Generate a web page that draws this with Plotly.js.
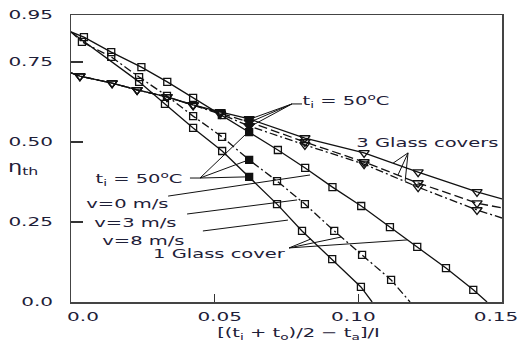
<!DOCTYPE html>
<html><head><meta charset="utf-8">
<script src="https://cdn.plot.ly/plotly-3.0.1.min.js"></script>
<style>html,body{margin:0;padding:0;background:#fff}#chart{width:518px;height:342px}</style>
</head><body><div id="chart"></div>
<script>
// ---- data: 1 glass cover (v = 0, 3, 8 m/s) ----
const g1_v0_x = [0, 0.0045, 0.014, 0.0245, 0.0335, 0.0425, 0.0525, 0.062, 0.072, 0.0815, 0.091, 0.101, 0.111, 0.1205, 0.1305, 0.14, 0.1448];
const g1_v0_y = [0.844, 0.828, 0.781, 0.734, 0.688, 0.638, 0.584, 0.531, 0.475, 0.419, 0.359, 0.300, 0.234, 0.172, 0.106, 0.038, 0];
const g1_v3_x = [0, 0.0038, 0.014, 0.0237, 0.0334, 0.0425, 0.0526, 0.062, 0.0717, 0.0814, 0.0916, 0.1013, 0.1114, 0.118];
const g1_v3_y = [0.844, 0.813, 0.766, 0.703, 0.644, 0.581, 0.516, 0.444, 0.378, 0.306, 0.222, 0.147, 0.069, 0];
const g1_v8_x = [0, 0.0237, 0.0327, 0.0425, 0.0526, 0.062, 0.0717, 0.0804, 0.0909, 0.1009, 0.1048];
const g1_v8_y = [0.844, 0.688, 0.619, 0.544, 0.472, 0.391, 0.306, 0.222, 0.134, 0.047, 0];
// ---- data: 3 glass covers (v = 0, 3, 8 m/s) ----
const g3_x    = [0, 0.0031, 0.0143, 0.023, 0.0334, 0.0425, 0.0519, 0.062, 0.0814, 0.102, 0.1208, 0.1413, 0.15];
const g3_v0_y = [0.716, 0.706, 0.684, 0.663, 0.641, 0.616, 0.594, 0.572, 0.5125, 0.466, 0.406, 0.344, 0.322];
const g3_v3_y = [0.716, 0.706, 0.684, 0.663, 0.641, 0.616, 0.592, 0.5625, 0.500, 0.4375, 0.372, 0.309, 0.294];
const g3_v8_y = [0.716, 0.706, 0.684, 0.663, 0.641, 0.614, 0.588, 0.550, 0.491, 0.431, 0.359, 0.2875, 0.2625];
// point measured at t_i = 50 °C (filled markers)
const TI50_X = 0.062;
// ---- ticks ----
const xTickVals = [0, 0.05, 0.10, 0.15];
const xTickText = ['0.0', '0.05', '0.10', '0.15'];
const yTickVals = [0, 0.25, 0.50, 0.75, 0.897];
const yTickText = ['0.0', '0.25', '0.50', '0.75', '0.95'];

const INK = '#111';
const TXT = '#1e2038';
const FONT = 'DejaVu Sans';

function series(xs, ys, dash, sym, size) {
  const inner = xs.map((_, i) => i).slice(1, -1);
  const mx = inner.map(i => xs[i]), my = inner.map(i => ys[i]);
  return [
    {x: xs, y: ys, mode: 'lines', line: {color: INK, width: 1.3, dash: dash}, hoverinfo: 'skip', showlegend: false},
    {x: mx, y: my, mode: 'markers', showlegend: false,
     marker: {symbol: mx.map(v => Math.abs(v - TI50_X) < 1e-9 ? sym : sym + '-open'),
              size: size, color: INK, line: {color: INK, width: 1.3}}}
  ];
}
const DASHDOT = '8px,3px,2px,3px';
const traces = [].concat(
  series(g1_v0_x, g1_v0_y, 'solid', 'square', 7),
  series(g1_v3_x, g1_v3_y, DASHDOT, 'square', 7),
  series(g1_v8_x, g1_v8_y, 'solid', 'square', 7),
  series(g3_x, g3_v0_y, 'solid', 'triangle-down', 9),
  series(g3_x, g3_v3_y, '9px,4px', 'triangle-down', 9),
  series(g3_x, g3_v8_y, DASHDOT, 'triangle-down', 9)
);

// leader lines [x0, y0, x1, y1] in data units
const leaders = [
  [0.0804, 0.619, 0.0769, 0.619], [0.0769, 0.619, 0.0633, 0.575], [0.0769, 0.619, 0.0633, 0.566], [0.0769, 0.619, 0.0633, 0.553],
  [0.0414, 0.3875, 0.0449, 0.3875], [0.0449, 0.3875, 0.0609, 0.391], [0.0449, 0.3875, 0.0609, 0.441], [0.0449, 0.3875, 0.0609, 0.525],
  [0.0338, 0.331, 0.0832, 0.397],
  [0.0404, 0.275, 0.0787, 0.319],
  [0.0459, 0.222, 0.0755, 0.256],
  [0.0759, 0.169, 0.0835, 0.197], [0.0759, 0.169, 0.0940, 0.203], [0.0759, 0.169, 0.1170, 0.194],
  [0.1173, 0.466, 0.1121, 0.434], [0.1173, 0.466, 0.1138, 0.397], [0.1173, 0.466, 0.1163, 0.378]
];
const shapes = leaders.map(s => ({type: 'line', xref: 'x', yref: 'y', x0: s[0], y0: s[1], x1: s[2], y1: s[3],
  line: {color: INK, width: 1}}));

const labels = [
  {text: 't<sub>i</sub> = 50<sup>o</sup>C', x: 0.0957, y: 0.628},
  {text: 't<sub>i</sub> = 50<sup>o</sup>C', x: 0.0238, y: 0.384},
  {text: 'v=0 m/s', x: 0.0197, y: 0.309},
  {text: 'v=3 m/s', x: 0.0226, y: 0.247},
  {text: 'v=8 m/s', x: 0.0254, y: 0.191},
  {text: '1 Glass cover', x: 0.0517, y: 0.153},
  {text: '3 Glass covers', x: 0.1241, y: 0.500}
];
const annotations = labels.map(l => ({text: l.text, x: l.x, y: l.y, xref: 'x', yref: 'y',
  showarrow: false, xanchor: 'center', yanchor: 'middle', font: {family: FONT, size: 13, color: TXT}}));
annotations.push({text: 'η<sub>th</sub>', xref: 'paper', yref: 'paper', x: -0.111, y: 0.467,
  showarrow: false, xanchor: 'center', yanchor: 'middle', font: {family: FONT, size: 15, color: TXT}});

const layout = {
  width: 518, height: 342,
  margin: {l: 71, r: 16, t: 15, b: 40},
  paper_bgcolor: '#fff', plot_bgcolor: '#fff',
  showlegend: false,
  font: {family: FONT, color: TXT},
  xaxis: {range: [0, 0.15], tickvals: xTickVals, ticktext: xTickText, ticks: 'inside', ticklen: 8,
    tickcolor: '#333', tickwidth: 1.5, showgrid: false, zeroline: false, showline: true, linecolor: '#444',
    linewidth: 1.5, mirror: true, tickfont: {family: FONT, size: 12.5, color: TXT}, ticklabelstandoff: 2,
    title: {text: '[(t<sub>i</sub> + t<sub>o</sub>)/2 − t<sub>a</sub>]/I', font: {family: FONT, size: 13, color: TXT}, standoff: 9}},
  yaxis: {range: [0, 0.897], tickvals: yTickVals, ticktext: yTickText, ticks: 'inside', ticklen: 12,
    tickcolor: '#333', tickwidth: 1.5, showgrid: false, zeroline: false, showline: true, linecolor: '#444',
    linewidth: 1.5, mirror: true, tickfont: {family: FONT, size: 12.5, color: TXT}, ticklabelstandoff: 14},
  shapes: shapes,
  annotations: annotations
};

// cosmetic: widen glyphs like the (horizontally stretched) source image, nudge x labels
const xLabelShift = [12, 5, -5, -6];
Plotly.newPlot('chart', traces, layout, {staticPlot: true, displayModeBar: false}).then(gd => {
  const stretch = (sel, f) => gd.querySelectorAll(sel).forEach(t => {
    const w = t.getComputedTextLength();
    if (w > 0) { t.setAttribute('textLength', (w * f).toFixed(1)); t.setAttribute('lengthAdjust', 'spacingAndGlyphs'); }
  });
  stretch('.xtick text, .ytick text', 1.6);
  stretch('.annotation-text', 1.5);
  stretch('.xtitle', 1.5);
  gd.querySelectorAll('.xtick text').forEach((t, i) => {
    t.setAttribute('transform', 'translate(' + (xLabelShift[i] || 0) + ',0) ' + (t.getAttribute('transform') || ''));
  });
  const xt = gd.querySelector('.xtitle');
  if (xt) xt.setAttribute('transform', 'translate(12,0) ' + (xt.getAttribute('transform') || ''));
});
</script></body></html>
